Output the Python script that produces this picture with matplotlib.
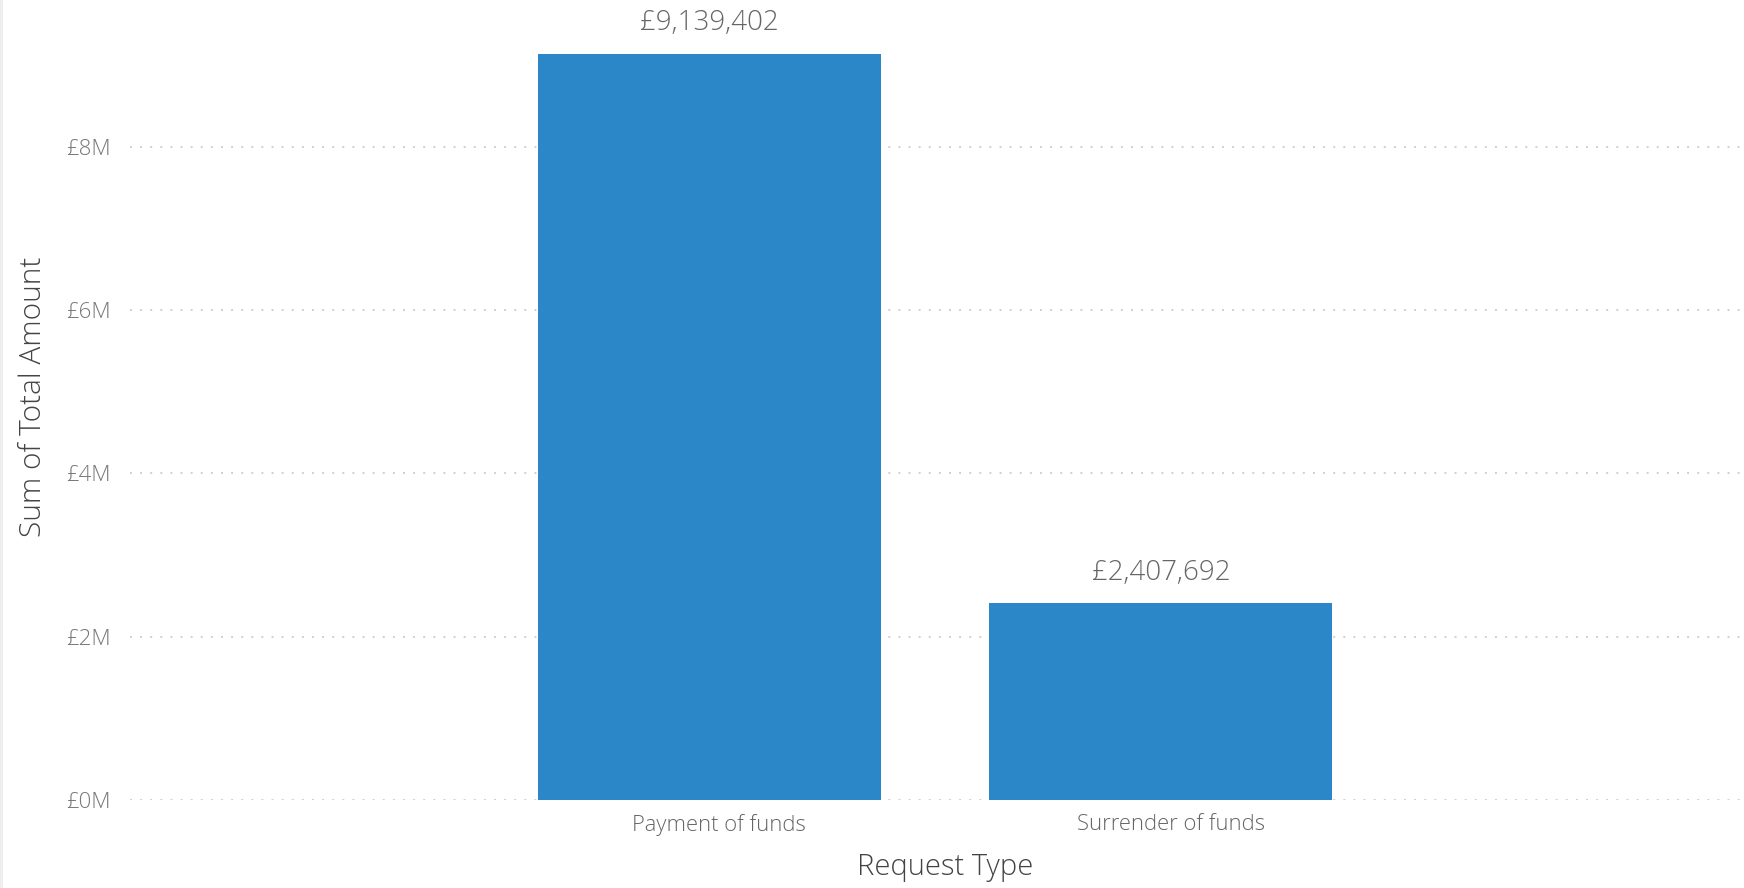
import matplotlib
matplotlib.use("Agg")
import matplotlib.pyplot as plt
from matplotlib.ticker import FuncFormatter
from matplotlib.patches import Rectangle
from matplotlib.transforms import ScaledTranslation

categories = ["Payment of funds", "Surrender of funds"]
values = [9139402, 2407692]
yticks = [0, 2e6, 4e6, 6e6, 8e6]

plt.rcParams['font.family'] = ['Open Sans', 'DejaVu Sans']

fig = plt.figure(figsize=(17.44, 8.88), dpi=100)
fig.patch.set_facecolor('white')
fig.add_artist(Rectangle((0, 0), 3/1744, 1, transform=fig.transFigure,
                         facecolor='#eeeeee', edgecolor='none'))

ax = fig.add_axes([130/1744, 88/888, 1612/1744, 800/888])
x = list(range(len(categories)))
bars = ax.bar(x, values, width=0.76, color='#2b87c8', zorder=3)

ax.set_ylim(0, 9.8e6)
ax.set_xlim(-1.283, 2.287)
ax.set_yticks(yticks)
ax.yaxis.set_major_formatter(FuncFormatter(lambda v, p: f"£{v/1e6:.0f}M"))
ax.set_xticks(x)
ax.set_xticklabels(categories)

ax.grid(axis='y', color='#cfcfcf', linestyle=(0, (1, 4.2)), linewidth=1.4, zorder=0)
ax.grid(axis='x', visible=False)
for s in ax.spines.values():
    s.set_visible(False)

ax.tick_params(axis='y', length=0, pad=14, labelsize=16, labelcolor='#777777')
ax.tick_params(axis='x', length=0, pad=10.4, labelsize=15.8, labelcolor='#666666')
for lab in ax.get_xticklabels() + ax.get_yticklabels():
    lab.set_fontweight('light')
shift = ScaledTranslation(10/100, 0, fig.dpi_scale_trans)
for lab in ax.get_xticklabels():
    lab.set_transform(lab.get_transform() + shift)

ax.set_xlabel("Request Type", fontsize=21, color='#444444', fontweight='light')
ax.xaxis.set_label_coords(0.5056, -0.065)
ax.set_ylabel("Sum of Total Amount", fontsize=21.5, color='#444444', fontweight='light')
ax.yaxis.set_label_coords(-0.051, 0.504)

for xi, v in zip(x, values):
    ax.annotate(f"£{v:,.0f}", (xi, v), xytext=(0, 12), textcoords='offset points',
                ha='center', va='bottom', fontsize=20, color='#666666', fontweight='light')

fig.savefig("out.png", dpi=100, facecolor='white')
